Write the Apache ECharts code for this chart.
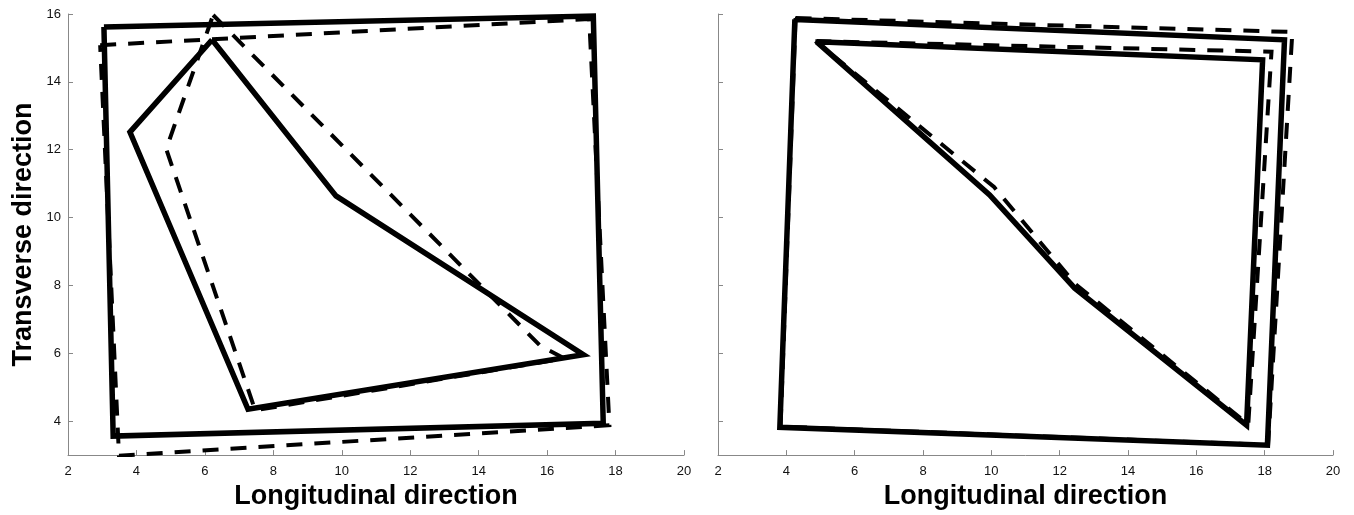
<!DOCTYPE html>
<html>
<head>
<meta charset="utf-8">
<script src="https://cdn.jsdelivr.net/npm/echarts@6/dist/echarts.min.js"></script>
<style>
  html, body { margin: 0; padding: 0; background: #fff; }
  #main { width: 1354px; height: 515px; }
</style>
</head>
<body>
<div id="main"></div>
<script>
// tick values
var xTicks = [2, 4, 6, 8, 10, 12, 14, 16, 18, 20];
var yTicks = [4, 6, 8, 10, 12, 14, 16];

// left panel outlines (closed, [x, y])
var leftSolidOuter = [[3.05, 15.62], [17.35, 15.94], [17.64, 3.94], [3.32, 3.56], [3.05, 15.62]];
var leftDashOuter = [[2.94, 15.08], [17.23, 15.85], [17.82, 3.88], [3.49, 2.98], [2.94, 15.08]];
var leftSolidInner = [[6.21, 15.24], [3.81, 12.52], [7.26, 4.35], [17.06, 5.96], [9.83, 10.64], [6.21, 15.24]];
var leftDashInner = [[6.24, 15.97], [15.80, 6.22], [16.5, 5.85], [7.47, 4.32], [4.87, 12.02], [6.24, 15.97]];

// right panel outlines
var rightSolidOuter = [[4.25, 15.84], [18.58, 15.24], [18.08, 3.29], [3.81, 3.82], [4.25, 15.84]];
var rightDashOuter = [[4.27, 15.88], [18.81, 15.47], [18.1, 3.3], [3.83, 3.84], [4.27, 15.88]];
var rightSolidInner = [[4.89, 15.18], [17.94, 14.65], [17.47, 3.88], [12.44, 7.92], [9.95, 10.67], [4.89, 15.18]];
var rightDashInner = [[4.85, 15.2], [18.2, 14.89], [17.52, 3.9], [12.45, 8.05], [10.08, 10.9], [4.85, 15.2]];

var FONT = 'Liberation Sans, Arial, Helvetica, sans-serif';
var axisGray = '#888';

function xAx(idx) {
  return {
    gridIndex: idx, type: 'value', min: 2, max: 20, interval: 2,
    axisLine: { show: true, onZero: false, lineStyle: { color: axisGray, width: 1 } },
    axisTick: { show: true, inside: true, length: 5, lineStyle: { color: axisGray } },
    axisLabel: { color: '#111', fontSize: 13, margin: 10, fontFamily: FONT },
    splitLine: { show: false },
    name: 'Longitudinal direction', nameLocation: 'middle', nameGap: 25,
    nameTextStyle: { fontSize: 27, fontWeight: 'bold', color: '#000', fontFamily: FONT, verticalAlign: 'top' }
  };
}

function yAx(idx, withLabels) {
  var ax = {
    gridIndex: idx, type: 'value', min: 3, max: 16,
    axisLine: { show: true, onZero: false, lineStyle: { color: axisGray, width: 1 } },
    axisTick: { show: true, inside: true, length: 5, customValues: yTicks, lineStyle: { color: axisGray } },
    axisLabel: { show: withLabels, customValues: yTicks, color: '#111', fontSize: 13, margin: 7, fontFamily: FONT },
    splitLine: { show: false }
  };
  if (withLabels) {
    ax.name = 'Transverse direction';
    ax.nameLocation = 'middle';
    ax.nameGap = 31;
    ax.nameTextStyle = { fontSize: 27, fontWeight: 'bold', color: '#000', fontFamily: FONT };
  }
  return ax;
}

function outline(data, idx, dashed) {
  return {
    type: 'line', xAxisIndex: idx, yAxisIndex: idx, data: data,
    symbol: 'none', silent: true, clip: true,
    lineStyle: dashed
      ? { color: '#000', width: 4, type: [16, 12], cap: 'butt', join: 'miter' }
      : { color: '#000', width: 5.5, type: 'solid', cap: 'butt', join: 'miter' }
  };
}

var chart = echarts.init(document.getElementById('main'));
chart.setOption({
  animation: false,
  backgroundColor: '#fff',
  grid: [
    { left: 68, top: 14, width: 616, height: 444 },
    { left: 718, top: 14, width: 615, height: 444 }
  ],
  xAxis: [xAx(0), xAx(1)],
  yAxis: [yAx(0, true), yAx(1, false)],
  series: [
    outline(leftDashOuter, 0, true),
    outline(leftDashInner, 0, true),
    outline(leftSolidOuter, 0, false),
    outline(leftSolidInner, 0, false),
    outline(rightDashOuter, 1, true),
    outline(rightDashInner, 1, true),
    outline(rightSolidOuter, 1, false),
    outline(rightSolidInner, 1, false)
  ]
});
window.addEventListener('resize', function () { chart.resize(); });
</script>
</body>
</html>
